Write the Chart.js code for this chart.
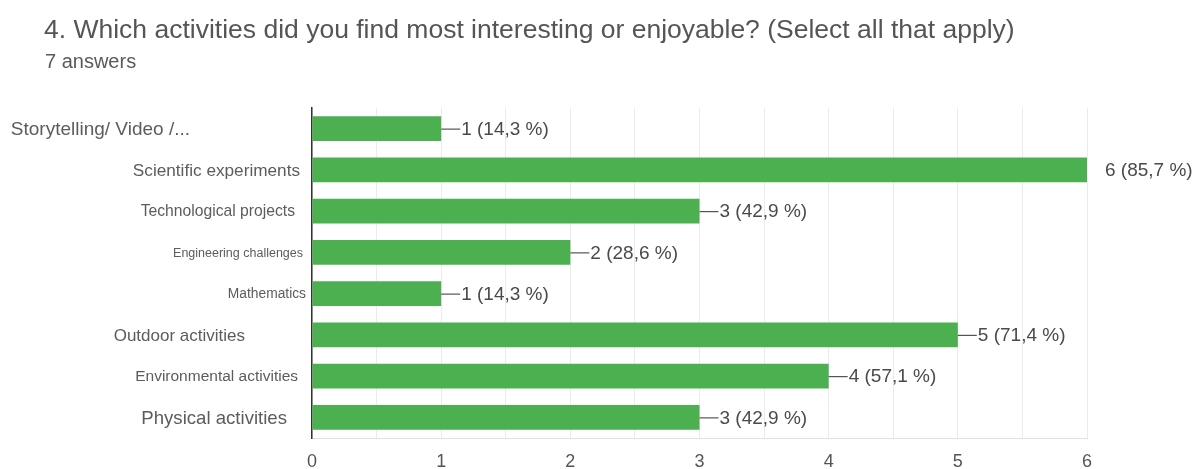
<!DOCTYPE html>
<html>
<head>
<meta charset="utf-8">
<script src="https://cdn.jsdelivr.net/npm/chart.js@4.4.1/dist/chart.umd.min.js"></script>
<style>
  html,body{margin:0;padding:0;background:#fff;}
  #wrap{position:relative;width:1204px;height:469px;overflow:hidden;}
  #chart{position:absolute;left:0;top:0;}
  .qtitle{position:absolute;left:44px;top:14px;font:26.5px "Liberation Sans",Arial,sans-serif;color:#555;white-space:nowrap;}
  .qsub{position:absolute;left:45px;top:50px;font:20px "Liberation Sans",Arial,sans-serif;color:#5a5a5a;}
</style>
</head>
<body>
<div id="wrap">
  <canvas id="chart" width="1204" height="469"></canvas>
  <div class="qtitle">4. Which activities did you find most interesting or enjoyable? (Select all that apply)</div>
  <div class="qsub">7 answers</div>
</div>
<script>
// answers per activity (7 respondents)
const categories = ['Storytelling/ Video /...','Scientific experiments','Technological projects','Engineering challenges','Mathematics','Outdoor activities','Environmental activities','Physical activities'];
const counts = [1, 6, 3, 2, 1, 5, 4, 3];
const totalAnswers = 7;
const xTicks = [0, 1, 2, 3, 4, 5, 6];

// row labels come in mixed sizes and right edges
const labelSizes = [19, 17.2, 15.7, 12.5, 13.8, 17, 15.5, 18.6];
const labelGaps = [122, 12, 17, 9, 6, 67, 14, 25];

const GREEN = '#4caf50';
const FONT = '"Liberation Sans", Arial, sans-serif';

const pctText = v => (v / totalAnswers * 100).toFixed(1).replace('.', ',');

// category names, drawn at the y scale's tick positions
const rowLabels = {
  id: 'rowLabels',
  afterDraw(chart) {
    const ctx = chart.ctx;
    const y = chart.scales.y;
    const left = chart.chartArea.left;
    ctx.save();
    ctx.fillStyle = '#5c5c5c';
    ctx.textAlign = 'right';
    ctx.textBaseline = 'middle';
    categories.forEach((name, i) => {
      ctx.font = `${labelSizes[i]}px ${FONT}`;
      ctx.fillText(name, left - labelGaps[i], y.getPixelForTick(i) + 1);
    });
    ctx.restore();
  }
};

// value labels "n (p %)" with a short connector line
const valueLabels = {
  id: 'valueLabels',
  afterDatasetsDraw(chart) {
    const ctx = chart.ctx;
    const meta = chart.getDatasetMeta(0);
    const xMax = chart.scales.x.max;
    ctx.save();
    ctx.font = '19px ' + FONT;
    ctx.fillStyle = '#4a4a4a';
    ctx.textBaseline = 'middle';
    meta.data.forEach((bar, i) => {
      const v = counts[i];
      const x = bar.x, y = bar.y;
      let tx;
      if (v >= xMax) {
        tx = x + 18;
      } else {
        ctx.strokeStyle = '#555';
        ctx.lineWidth = 1.2;
        ctx.beginPath();
        ctx.moveTo(x, y + 0.5);
        ctx.lineTo(x + 19, y + 0.5);
        ctx.stroke();
        tx = x + 20;
      }
      ctx.fillText(`${v} (${pctText(v)} %)`, tx, y + 1);
    });
    ctx.restore();
  }
};

new Chart(document.getElementById('chart'), {
  type: 'bar',
  data: {
    labels: categories,
    datasets: [{
      data: counts,
      backgroundColor: GREEN,
      borderWidth: 0,
      barPercentage: 0.6,
      categoryPercentage: 1
    }]
  },
  options: {
    indexAxis: 'y',
    responsive: false,
    animation: false,
    layout: { padding: { top: 108, right: 117, bottom: 0, left: 0 } },
    plugins: { legend: { display: false }, tooltip: { enabled: false } },
    scales: {
      x: {
        min: 0, max: 6,
        grid: { color: '#ebebeb', drawTicks: false },
        border: { color: '#e2e2e2' },
        ticks: {
          stepSize: 0.5,
          autoSkip: false,
          maxRotation: 0,
          padding: 13,
          color: '#555',
          font: { family: FONT, size: 18 },
          callback: v => xTicks.includes(v) ? String(v) : ''
        },
        afterFit: s => { s.height = 31; }
      },
      y: {
        grid: { display: false, drawTicks: false },
        border: { color: '#333', width: 1.5 },
        ticks: { display: false },
        afterFit: s => { s.width = 312; }
      }
    }
  },
  plugins: [rowLabels, valueLabels]
});
</script>
</body>
</html>
